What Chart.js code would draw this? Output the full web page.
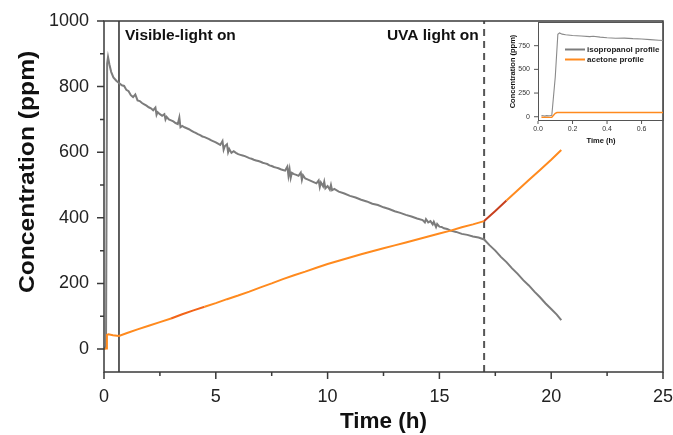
<!DOCTYPE html>
<html><head><meta charset="utf-8">
<script src="https://cdn.jsdelivr.net/npm/chart.js@4/dist/chart.umd.min.js"></script>
<style>
html,body{margin:0;padding:0;background:#fff;}
#wrap{position:relative;width:673px;height:435px;background:#fff;}
#main{position:absolute;left:0;top:0;}
#inset{position:absolute;left:500px;top:15px;}
</style></head><body>
<div id="wrap"><canvas id="main" width="673" height="435"></canvas><canvas id="inset" width="173" height="133"></canvas></div>
<script>
// ---------- main chart data ----------
const isoTime = [
  0, 0.06, 0.09, 0.14, 0.18, 0.24, 0.32, 0.42, 0.55, 0.67,
  0.8, 0.9, 1.0, 1.1, 1.2, 1.3, 1.4, 1.5, 1.6, 1.7,
  1.8, 1.9, 2.0, 2.1, 2.2, 2.3, 2.35, 2.4, 2.5, 2.6,
  2.7, 2.75, 2.8, 2.9, 3.0, 3.1, 3.2, 3.3, 3.37, 3.42,
  3.5, 3.6, 3.7, 3.8, 3.9, 4.0, 4.1, 4.2, 4.3, 4.4,
  4.5, 4.6, 4.7, 4.8, 4.9, 5.0, 5.1, 5.2, 5.3, 5.35,
  5.4, 5.5, 5.55, 5.6, 5.7, 5.8, 5.9, 6.0, 6.1, 6.2,
  6.3, 6.4, 6.5, 6.6, 6.7, 6.8, 6.9, 7.0, 7.1, 7.2,
  7.3, 7.4, 7.5, 7.6, 7.7, 7.8, 7.9, 8.0, 8.1, 8.2,
  8.25, 8.3, 8.35, 8.4, 8.5, 8.6, 8.7, 8.8, 8.85, 8.9,
  9.0, 9.1, 9.2, 9.3, 9.4, 9.5, 9.6, 9.65, 9.7, 9.8,
  9.85, 9.9, 10.0, 10.1, 10.15, 10.2, 10.3,
  10.5, 10.75, 11.0, 11.25, 11.5, 11.75, 12.0, 12.25, 12.5, 12.75,
  13.0, 13.25, 13.5, 13.75, 14.0, 14.25, 14.35, 14.4, 14.5, 14.6,
  14.7, 14.75, 14.85, 14.9, 15.0, 15.1, 15.2, 15.35, 15.5, 15.75,
  16.0, 16.25, 16.5,
  16.75, 17.0, 17.25, 17.5, 17.75, 18.0, 18.25, 18.5, 18.75, 19.0,
  19.25, 19.5, 19.75, 20.0, 20.25, 20.45
];
const isoConc = [
  0, 3, 10, 870, 890, 868, 845, 828, 818, 811,
  804, 802, 790, 786, 774, 768, 776, 758, 756, 750,
  746, 742, 737, 734, 728, 736, 714, 722, 716, 711,
  716, 700, 708, 700, 697, 694, 689, 686, 706, 676,
  680, 676, 673, 670, 666, 662, 659, 655, 652, 648,
  646, 643, 640, 636, 633, 630, 626, 622, 634, 608,
  618, 624, 600, 610, 598, 603, 598, 594, 592, 590,
  588, 585, 582, 580, 577, 575, 573, 571, 568, 566,
  564, 560, 558, 555, 553, 551, 548, 546, 544, 556,
  528, 548, 522, 537, 533, 531, 528, 538, 516, 530,
  520, 517, 514, 511, 508, 505, 514, 494, 508, 496,
  510, 490, 497, 486, 500, 484, 488,
  480, 474, 467, 462, 455, 450, 443, 439, 432, 427,
  420, 415, 409, 404, 398, 393, 386, 396, 386, 390,
  380, 388, 372, 381, 373, 372, 368, 366, 361, 357,
  351, 348, 343,
  340, 334, 316, 300, 281, 265, 246, 229, 210, 194,
  175, 158, 139, 122, 105, 88
];
const aceTime = [0, 0.09, 0.13, 0.2, 0.4, 0.67, 1.0, 1.5, 2.0, 2.5, 3.0, 3.5, 4.0, 4.5, 5.0, 5.5,
  6.0, 6.5, 7.0, 7.5, 8.0, 8.5, 9.0, 9.5, 10.0, 10.5, 11.0, 11.5, 12.0, 12.5, 13.0, 13.5,
  14.0, 14.5, 15.0, 15.5, 16.0, 16.5, 17.0, 17.5, 18.0, 18.5, 19.0, 19.5, 20.0, 20.45];
const aceConc = [0, 2, 43, 45, 42, 40, 48, 60, 71, 82, 93, 106, 118, 129, 140, 152,
  163, 175, 188, 200, 213, 225, 236, 248, 259, 269, 279, 289, 298, 307, 316, 325,
  334, 343, 352, 361, 371, 380, 390, 421, 453, 484, 515, 546, 577, 607];

const visibleOnTime = 0.67;
const uvaOnTime = 17.0;
const xTickValues = [0, 2.5, 5, 7.5, 10, 12.5, 15, 17.5, 20, 22.5, 25];
const yTickValues = [0, 100, 200, 300, 400, 500, 600, 700, 800, 900, 1000];
const xRange = [0, 25];
const yRange = [-70, 1000];
const yTitle = 'Concentration (ppm)';
const annotations = [
  {text: 'Visible-light on', x: 0.94, align: 'left'},
  {text: 'UVA light on', x: 16.76, align: 'right'}
];

// ---------- inset data ----------
const insetIsoTime = [0.02,0.03,0.04,0.05,0.06,0.07,0.08,0.1,0.115,0.125,0.14,0.16,0.2,0.25,0.3,0.32,0.36,0.4,0.45,0.5,0.55,0.6,0.65,0.7,0.73];
const insetIsoConc = [12,10,7,12,9,10,14,420,870,885,872,866,858,853,846,850,840,834,829,830,824,821,814,808,805];
const insetAceTime = [0.02,0.05,0.08,0.09,0.1,0.11,0.2,0.3,0.4,0.5,0.6,0.73];
const insetAceConc = [-6,-7,-5,15,36,44,45,45,44,45,45,45];
const insetXTicks = [0, 0.2, 0.4, 0.6];
const insetYTicks = [0, 250, 500, 750];
const insetXRange = [0, 0.73];
const insetYRange = [-45, 1000];
const legendLabels = ['isopropanol profile', 'acetone profile'];

// ---------- styles ----------
const FONT = "'Liberation Sans', Arial, Helvetica, sans-serif";
const GRAY = '#7c7c7c';
const ORANGE = '#ff8a1e';
const RED = '#c8401e';
const toXY = (xs, ys) => xs.map((x, i) => ({x: x, y: ys[i]}));

const mainDecor = {
  id: 'mainDecor',
  afterDraw(chart) {
    const {ctx, chartArea: a, scales: {x, y}} = chart;
    ctx.save();
    ctx.strokeStyle = '#3a3a3a';
    ctx.lineWidth = 1.5;
    ctx.strokeRect(a.left, a.top, a.right - a.left, a.bottom - a.top);
    ctx.beginPath();
    xTickValues.forEach(v => {
      const px = x.getPixelForValue(v);
      const len = v % 5 === 0 ? 7 : 4;
      ctx.moveTo(px, a.bottom); ctx.lineTo(px, a.bottom + len);
    });
    yTickValues.forEach(v => {
      const py = y.getPixelForValue(v);
      const len = v % 200 === 0 ? 7 : 4;
      ctx.moveTo(a.left, py); ctx.lineTo(a.left - len, py);
    });
    ctx.stroke();
    ctx.fillStyle = '#111';
    ctx.font = 'bold 15.5px ' + FONT;
    ctx.textBaseline = 'middle';
    annotations.forEach(an => {
      ctx.textAlign = an.align;
      ctx.fillText(an.text, x.getPixelForValue(an.x), a.top + 15);
    });
    // y-axis title (slightly elongated like the reference)
    ctx.save();
    ctx.translate(28, y.getPixelForValue(540));
    ctx.rotate(-Math.PI / 2);
    ctx.scale(1.12, 1);
    ctx.font = 'bold 22px ' + FONT;
    ctx.textAlign = 'center';
    ctx.fillText(yTitle, 0, 0);
    ctx.restore();
    ctx.restore();
  }
};

new Chart(document.getElementById('main'), {
  type: 'scatter',
  data: { datasets: [
    {label: 'isopropanol', data: toXY(isoTime, isoConc), showLine: true, borderColor: GRAY, borderWidth: 2, pointRadius: 0, order: 2},
    {label: 'acetone', data: toXY(aceTime, aceConc), showLine: true, borderColor: ORANGE, borderWidth: 2, pointRadius: 0, order: 1,
      segment: {borderColor: c => {
        const x0 = c.p0.parsed.x, x1 = c.p1.parsed.x;
        if (x0 >= 17 && x1 <= 18.0) return RED;
        if (x0 >= 3 && x1 <= 4.5) return '#f26418';
        return undefined;
      }}},
    {label: 'visible', data: [{x: visibleOnTime, y: yRange[0]}, {x: visibleOnTime, y: yRange[1]}], showLine: true, borderColor: '#2a2a2a', borderWidth: 1.5, pointRadius: 0, order: 3},
    {label: 'uva', data: [{x: uvaOnTime, y: yRange[0]}, {x: uvaOnTime, y: yRange[1]}], showLine: true, borderColor: '#555', borderWidth: 2, borderDash: [7, 5], pointRadius: 0, order: 3}
  ]},
  options: {
    responsive: false, animation: false,
    layout: {padding: {top: 21, right: 10, left: 0, bottom: 0}},
    plugins: {legend: {display: false}, tooltip: {enabled: false}},
    scales: {
      x: {type: 'linear', min: xRange[0], max: xRange[1],
        afterBuildTicks: s => { s.ticks = xTickValues.map(v => ({value: v})); },
        afterFit: s => { s.height = 63; s.paddingLeft = 0; s.paddingRight = 0; },
        grid: {display: false, drawTicks: false}, border: {display: false},
        ticks: {callback: v => (v % 5 === 0 ? String(v) : ''), font: {family: FONT, size: 18}, color: '#222', padding: 14, maxRotation: 0, autoSkip: false},
        title: {display: true, text: 'Time (h)', font: {family: FONT, size: 22.5, weight: 'bold'}, color: '#111', padding: {top: 0, bottom: 0}}
      },
      y: {type: 'linear', min: yRange[0], max: yRange[1],
        afterBuildTicks: s => { s.ticks = yTickValues.map(v => ({value: v})); },
        afterFit: s => { s.width = 104; s.paddingTop = 0; s.paddingBottom = 0; },
        grid: {display: false, drawTicks: false}, border: {display: false},
        ticks: {callback: v => (v % 200 === 0 ? String(v) : ''), font: {family: FONT, size: 18}, color: '#222', padding: 15, autoSkip: false},
        title: {display: false}
      }
    }
  },
  plugins: [mainDecor]
});

// ---------- inset ----------
const insetDecor = {
  id: 'insetDecor',
  afterDraw(chart) {
    const {ctx, chartArea: a, scales: {x, y}} = chart;
    ctx.save();
    ctx.strokeStyle = '#555';
    ctx.lineWidth = 1;
    ctx.strokeRect(a.left + 0.5, a.top + 0.5, a.right - a.left - 1, a.bottom - a.top - 1);
    ctx.beginPath();
    insetXTicks.forEach(v => { const px = x.getPixelForValue(v); ctx.moveTo(px, a.bottom); ctx.lineTo(px, a.bottom + 3); });
    insetYTicks.forEach(v => { const py = y.getPixelForValue(v); ctx.moveTo(a.left, py); ctx.lineTo(a.left - 4, py); });
    ctx.stroke();
    const colors = [GRAY, ORANGE];
    ctx.font = 'bold 8px ' + FONT;
    ctx.textBaseline = 'middle';
    ctx.textAlign = 'left';
    legendLabels.forEach((lab, i) => {
      const ly = a.top + 27.5 + i * 10;
      ctx.strokeStyle = colors[i];
      ctx.lineWidth = 2;
      ctx.beginPath(); ctx.moveTo(a.left + 27, ly); ctx.lineTo(a.left + 47, ly); ctx.stroke();
      ctx.fillStyle = '#222';
      ctx.fillText(lab, a.left + 49, ly);
    });
    ctx.restore();
  }
};

new Chart(document.getElementById('inset'), {
  type: 'scatter',
  data: { datasets: [
    {label: legendLabels[0], data: toXY(insetIsoTime, insetIsoConc), showLine: true, borderColor: '#8a8a8a', borderWidth: 1.1, pointRadius: 0, order: 2},
    {label: legendLabels[1], data: toXY(insetAceTime, insetAceConc), showLine: true, borderColor: ORANGE, borderWidth: 1.4, pointRadius: 0, order: 1}
  ]},
  options: {
    responsive: false, animation: false,
    layout: {padding: {top: 7, right: 9, left: 0, bottom: 0}},
    plugins: {legend: {display: false}, tooltip: {enabled: false}},
    scales: {
      x: {type: 'linear', min: insetXRange[0], max: insetXRange[1],
        afterBuildTicks: s => { s.ticks = insetXTicks.map(v => ({value: v})); },
        afterFit: s => { s.height = 27; s.paddingLeft = 0; s.paddingRight = 0; },
        grid: {display: false, drawTicks: false}, border: {display: false},
        ticks: {callback: v => Number(v).toFixed(1), font: {family: FONT, size: 7}, color: '#333', padding: 4, maxRotation: 0, autoSkip: false},
        title: {display: true, text: 'Time (h)', font: {family: FONT, size: 7.5, weight: 'bold'}, color: '#111', padding: {top: 0, bottom: 3}}
      },
      y: {type: 'linear', min: insetYRange[0], max: insetYRange[1],
        afterBuildTicks: s => { s.ticks = insetYTicks.map(v => ({value: v})); },
        afterFit: s => { s.width = 38; s.paddingTop = 0; s.paddingBottom = 0; },
        grid: {display: false, drawTicks: false}, border: {display: false},
        ticks: {font: {family: FONT, size: 7}, color: '#333', padding: 8, autoSkip: false},
        title: {display: true, text: 'Concentration (ppm)', font: {family: FONT, size: 7.5, weight: 'bold'}, color: '#111', padding: {top: 8, bottom: 0}}
      }
    }
  },
  plugins: [insetDecor]
});
</script>
</body></html>
